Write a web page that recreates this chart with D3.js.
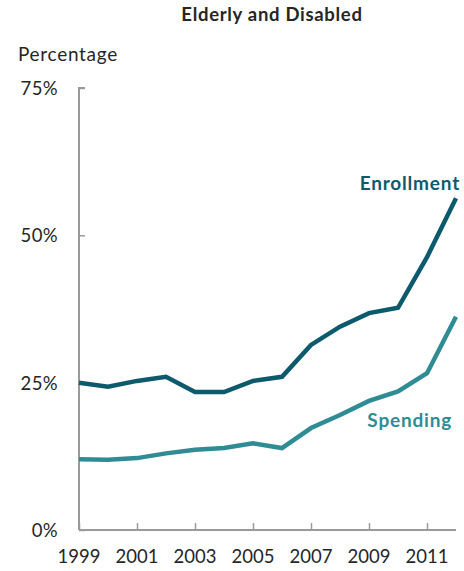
<!DOCTYPE html>
<html><head><meta charset="utf-8">
<script src="https://cdn.jsdelivr.net/npm/d3@7"></script>
<style>
body{margin:0;background:#fff;}
svg text{font-family:Lato,"Open Sans",sans-serif;}
</style></head>
<body><svg id="c" width="464" height="571"></svg>
<script>
const years = [1999,2000,2001,2002,2003,2004,2005,2006,2007,2008,2009,2010,2011,2012];
const enrollment = [25.0,24.3,25.3,26.0,23.4,23.4,25.3,26.0,31.4,34.5,36.8,37.7,46.3,56.3];
const spending = [12.0,11.9,12.2,13.0,13.6,13.9,14.7,13.9,17.3,19.5,21.9,23.5,26.6,36.2];
const xTicks = [1999,2001,2003,2005,2007,2009,2011];
const yTicks = [0,25,50,75];
const title = "Elderly and Disabled";
const yTitle = "Percentage";
const colEnroll = "#0d5a6d", colSpend = "#2f8c95";

const svg = d3.select("#c");
const x = d3.scaleLinear().domain([1999,2012]).range([79,456]);
const y = d3.scaleLinear().domain([0,75]).range([530,88]);
const axisCol = "#9a9a9a";

svg.append("text").attr("x",272).attr("y",21).attr("text-anchor","middle")
  .attr("font-weight","bold").attr("font-size",18.5).attr("letter-spacing",0.7).attr("fill","#262626").text(title);
svg.append("text").attr("x",18).attr("y",61).attr("font-size",19).attr("letter-spacing",0.7).attr("fill","#262626").text(yTitle);

const gy = svg.append("g").attr("transform","translate(79,0)")
  .call(d3.axisRight(y).tickValues(yTicks).tickSize(6).tickFormat(""));
gy.select(".domain").attr("stroke",axisCol).attr("stroke-width",2).attr("d",`M6,${y(75)}H0V${y(0)}`);
gy.selectAll(".tick line").attr("stroke",axisCol).attr("stroke-width",1.5);
svg.selectAll(".ylab").data(yTicks).join("text").attr("class","ylab")
  .attr("x",58).attr("y",d=>y(d)+7).attr("text-anchor","end").attr("font-size",18.5).attr("letter-spacing",0.4).attr("fill","#262626")
  .text(d=>d+"%");

const gx = svg.append("g").attr("transform","translate(0,530)")
  .call(d3.axisTop(x).tickValues(xTicks).tickSize(7).tickFormat(""));
gx.select(".domain").attr("stroke",axisCol).attr("stroke-width",2).attr("d",`M${x(1999)},0H${x(2012)}`);
gx.selectAll(".tick line").attr("stroke",axisCol).attr("stroke-width",1.5);
svg.selectAll(".xlab").data(xTicks).join("text").attr("class","xlab")
  .attr("x",d=>x(d)).attr("y",563).attr("text-anchor","middle").attr("font-size",18.5).attr("fill","#262626")
  .text(d=>d);

const line = d3.line().x((d,i)=>x(years[i])).y(d=>y(d));
svg.append("path").datum(spending).attr("d",line).attr("fill","none").attr("stroke",colSpend).attr("stroke-width",4.5).attr("stroke-linejoin","miter");
svg.append("path").datum(enrollment).attr("d",line).attr("fill","none").attr("stroke",colEnroll).attr("stroke-width",4.5).attr("stroke-linejoin","miter");

svg.append("text").attr("x",460).attr("y",190).attr("text-anchor","end").attr("font-weight","bold")
  .attr("font-size",19).attr("letter-spacing",0.8).attr("fill",colEnroll).text("Enrollment");
svg.append("text").attr("x",452).attr("y",427).attr("text-anchor","end").attr("font-weight","bold")
  .attr("font-size",19).attr("letter-spacing",0.8).attr("fill",colSpend).text("Spending");
</script></body></html>
